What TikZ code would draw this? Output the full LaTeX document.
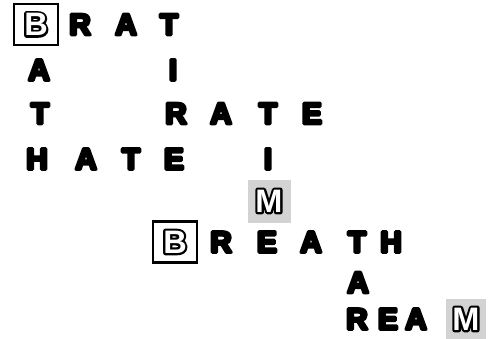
\documentclass[tikz,border=0pt]{standalone}
\usepackage{fontspec}
\setmainfont{Liberation Sans}
\usetikzlibrary{positioning}
\definecolor{inkgrey}{HTML}{D3D3D3}
\definecolor{inkblack}{HTML}{000000}
% heavy letters: fill and stroke the glyph outline
\newcommand{\inked}[1]{\special{x:gsave}\special{pdf:code 2 Tr 3 w 0 G 1 j}#1\special{x:grestore}}
% hollow letters: thick black outline, then the white glyph on top
\newcommand{\hollow}[1]{%
  \special{x:gsave}\special{pdf:code 2 Tr 4.4 w 0 G 0 g 1 j}\rlap{#1}\special{x:grestore}%
  \special{x:gsave}\special{pdf:code 0 Tr 1 g}#1\special{x:grestore}}
\tikzset{
  letter/.style={font=\fontsize{30}{30}\selectfont\bfseries, inner sep=0pt,
                 text height=20.6pt, text depth=0pt},
  bigletter/.style={font=\fontsize{32.5}{32}\selectfont\bfseries, inner sep=0pt,
                 text height=22.3pt, text depth=0pt},
}
\newcommand{\tile}[4]{%
  \node[letter] (#1) at (#2,#3) {\inked{#4}};}
\newcommand{\startbox}[4]{%
  \node[bigletter, draw=inkblack, line width=2.4pt, minimum width=44pt,
        minimum height=41pt] (#1) at (#2,#3) {\hollow{#4}};}
\newcommand{\goalbox}[5]{%
  \node[bigletter, fill=inkgrey, minimum width=#5pt, minimum height=#5pt]
        (#1) at (#2,#3) {\hollow{#4}};}

\begin{document}
\begin{tikzpicture}[x=1pt, y=-1pt]
  \useasboundingbox (0,0) rectangle (495,338);
  % BRAT
  \tile{r1}{80}{24.5}{R}
  \tile{a1}{126}{24.5}{A}
  \tile{t1}{169}{24.5}{T}
  \startbox{b1}{36}{24.5}{B}
  % BATH, TIRE
  \tile{a2}{39}{70}{A}
  \tile{i2}{173}{70}{I}
  \tile{t3}{40}{113.5}{T}
  \tile{r3}{176}{113.5}{R}
  \tile{a3}{221}{113.5}{A}
  \tile{t3b}{268}{113.5}{T}
  \tile{e3}{312}{113.5}{E}
  % HATE, TIM
  \tile{h4}{37}{159}{H}
  \tile{a4}{86}{159}{A}
  \tile{t4}{131}{159}{T}
  \tile{e4}{174}{159}{E}
  \tile{i4}{268}{159}{I}
  \goalbox{m5}{269}{201}{M}{43}
  % BREATH
  \startbox{b6}{175}{242}{B}
  \tile{r6}{221}{242}{R}
  \tile{e6}{267}{242}{E}
  \tile{a6}{311}{242}{A}
  \tile{t6}{357}{242}{T}
  \tile{h6}{391}{242}{H}
  % TAR, REAM
  \tile{a7}{358}{282.5}{A}
  \tile{r8}{357}{319}{R}
  \tile{e8}{388}{319}{E}
  \tile{a8}{416}{319}{A}
  \goalbox{m8}{466}{319}{M}{40}
\end{tikzpicture}
\end{document}
